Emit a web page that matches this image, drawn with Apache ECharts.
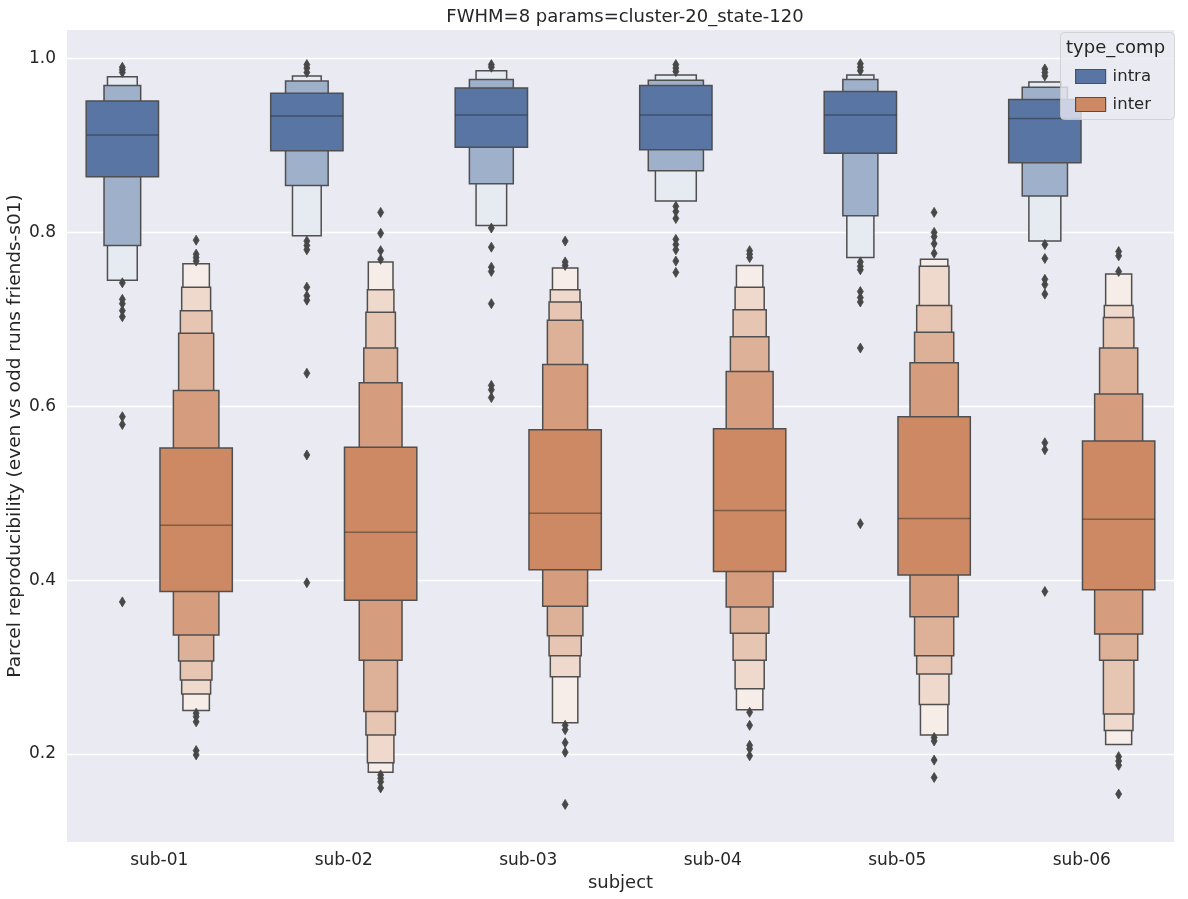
<!DOCTYPE html>
<html><head><meta charset="utf-8">
<script src="https://cdn.jsdelivr.net/npm/echarts@6/dist/echarts.min.js"></script>
<style>html,body{margin:0;padding:0;background:#fff}#main{width:1188px;height:899px}</style>
</head><body><div id="main"></div>
<script>
const categories = ['sub-01','sub-02','sub-03','sub-04','sub-05','sub-06'];
const yTicks = [0.2, 0.4, 0.6, 0.8, 1.0];

// letter-value boxes, listed innermost -> outermost
const intraMedian = [0.912, 0.934, 0.935, 0.935, 0.935, 0.931];
const intraLow = [
  [0.864, 0.785, 0.745],
  [0.894, 0.854, 0.796],
  [0.898, 0.856, 0.808],
  [0.895, 0.871, 0.836],
  [0.891, 0.819, 0.771],
  [0.880, 0.842, 0.790]
];
const intraHigh = [
  [0.951, 0.969, 0.979],
  [0.960, 0.974, 0.980],
  [0.966, 0.976, 0.986],
  [0.969, 0.975, 0.981],
  [0.962, 0.976, 0.981],
  [0.953, 0.967, 0.973]
];
const intraOutliers = [
  [0.990, 0.987, 0.984, 0.742, 0.723, 0.718, 0.710, 0.703, 0.588, 0.579, 0.375],
  [0.993, 0.989, 0.984, 0.790, 0.785, 0.780, 0.737, 0.727, 0.722, 0.638, 0.544, 0.397],
  [0.993, 0.990, 0.805, 0.783, 0.760, 0.755, 0.718, 0.624, 0.619, 0.610],
  [0.993, 0.989, 0.985, 0.830, 0.824, 0.816, 0.792, 0.786, 0.780, 0.767, 0.754],
  [0.994, 0.990, 0.986, 0.766, 0.761, 0.757, 0.732, 0.725, 0.720, 0.667, 0.465],
  [0.988, 0.984, 0.980, 0.786, 0.770, 0.746, 0.740, 0.729, 0.558, 0.550, 0.387]
];

const interMedian = [0.463, 0.455, 0.477, 0.480, 0.471, 0.470];
const interLow = [
  [0.387, 0.337, 0.307, 0.285, 0.269, 0.250],
  [0.377, 0.308, 0.249, 0.222, 0.190, 0.179],
  [0.412, 0.370, 0.336, 0.313, 0.289, 0.236],
  [0.410, 0.369, 0.339, 0.308, 0.275, 0.251],
  [0.406, 0.358, 0.313, 0.292, 0.257, 0.222],
  [0.389, 0.338, 0.308, 0.246, 0.227, 0.211]
];
const interHigh = [
  [0.552, 0.618, 0.684, 0.710, 0.737, 0.764],
  [0.553, 0.627, 0.667, 0.708, 0.734, 0.766],
  [0.573, 0.648, 0.699, 0.720, 0.734, 0.759],
  [0.574, 0.640, 0.680, 0.711, 0.737, 0.762],
  [0.588, 0.650, 0.685, 0.716, 0.761, 0.769],
  [0.560, 0.614, 0.667, 0.702, 0.716, 0.752]
];
const interOutliers = [
  [0.791, 0.775, 0.771, 0.767, 0.247, 0.243, 0.237, 0.204, 0.199],
  [0.823, 0.799, 0.779, 0.769, 0.176, 0.172, 0.168, 0.161],
  [0.790, 0.766, 0.762, 0.233, 0.228, 0.213, 0.202, 0.142],
  [0.779, 0.775, 0.771, 0.248, 0.233, 0.210, 0.206, 0.198],
  [0.823, 0.800, 0.795, 0.787, 0.776, 0.219, 0.215, 0.193, 0.173],
  [0.778, 0.773, 0.755, 0.197, 0.192, 0.187, 0.154]
];

const FONT = 'DejaVu Sans';
const TXT = '#262626';
const EDGE = '#4f4f4f';
const BASE_INTRA = [88, 117, 163];
const BASE_INTER = [204, 137, 99];
const rgb = c => 'rgb(' + c.join(',') + ')';
function levelColor(base, v) {
  const t = v * 0.85;
  return rgb(base.map(c => Math.round(c + (255 - c) * t)));
}

function boxenSeries(name, base, med, lows, highs, offset) {
  const data = categories.map((c, i) => {
    const row = [i, med[i]];
    lows[i].forEach((l, j) => { row.push(l, highs[i][j]); });
    return row;
  });
  return {
    type: 'custom', name: name, data: data, z: 3,
    itemStyle: { color: rgb(base), borderColor: EDGE, borderWidth: 1.2 },
    renderItem: function (params, api) {
      const k = lows[params.dataIndex].length;
      const band = api.size([1, 0])[0];
      const cx = api.coord([api.value(0), 0])[0] + offset * band;
      const fullW = band * 0.4 * 0.98;
      const raw = [];
      for (let j = 0; j < k; j++) {
        const lo = api.value(2 + 2 * j), hi = api.value(3 + 2 * j);
        raw.push((1 - Math.pow(2, -j - 3)) / (hi - lo));
      }
      const mx = Math.max.apply(null, raw);
      const children = [];
      for (let j = k - 1; j >= 0; j--) {
        const lo = api.value(2 + 2 * j), hi = api.value(3 + 2 * j);
        const w = raw[j] / mx * fullW;
        const y1 = api.coord([0, hi])[1], y2 = api.coord([0, lo])[1];
        children.push({
          type: 'rect',
          shape: { x: cx - w / 2, y: y1, width: w, height: y2 - y1 },
          style: { fill: levelColor(base, k > 1 ? j / (k - 1) : 0), stroke: EDGE, lineWidth: 1.5 }
        });
      }
      const ym = api.coord([0, api.value(1)])[1];
      children.push({
        type: 'line',
        shape: { x1: cx - fullW / 2, y1: ym, x2: cx + fullW / 2, y2: ym },
        style: { stroke: 'rgba(38,38,38,0.45)', lineWidth: 1.5 }
      });
      return { type: 'group', children: children };
    }
  };
}

function outlierSeries(name, outs, offset) {
  const data = [];
  outs.forEach((arr, i) => arr.forEach(v => data.push([i, v])));
  return {
    type: 'custom', name: name + '_out', data: data, z: 4,
    renderItem: function (params, api) {
      const band = api.size([1, 0])[0];
      const p = api.coord([api.value(0), api.value(1)]);
      const x = p[0] + offset * band, y = p[1];
      return {
        type: 'polygon',
        shape: { points: [[x, y - 5], [x + 3, y], [x, y + 5], [x - 3, y]] },
        style: { fill: '#474747', stroke: '#474747', lineWidth: 0.8 }
      };
    }
  };
}

const chart = echarts.init(document.getElementById('main'), null, { renderer: 'canvas' });
chart.setOption({
  animation: false,
  backgroundColor: '#ffffff',
  title: {
    text: 'FWHM=8 params=cluster-20_state-120',
    left: 620, top: 3, textAlign: 'center',
    textStyle: { fontFamily: FONT, fontSize: 18, fontWeight: 'normal', color: TXT }
  },
  grid: { left: 67, right: 14, top: 30, bottom: 57, show: true, backgroundColor: '#EAEAF2', borderWidth: 0,
          containLabel: false, outerBoundsMode: 'none' },
  xAxis: {
    type: 'category', data: categories,
    name: 'subject', nameLocation: 'middle', nameGap: 32, nameMoveOverlap: false,
    nameTextStyle: { fontFamily: FONT, fontSize: 18, color: TXT },
    axisLine: { show: false }, axisTick: { show: false },
    axisLabel: { fontFamily: FONT, fontSize: 17, color: TXT, margin: 10 },
    splitLine: { show: false }
  },
  yAxis: {
    type: 'value', min: 0.0988, max: 1.0328,
    name: 'Parcel reproducibility (even vs odd runs friends-s01)',
    nameLocation: 'middle', nameGap: 42, nameMoveOverlap: false,
    nameTextStyle: { fontFamily: FONT, fontSize: 18.5, color: TXT },
    axisLine: { show: false },
    axisTick: { show: false, customValues: yTicks },
    axisLabel: { customValues: yTicks, formatter: v => v.toFixed(1), fontFamily: FONT, fontSize: 17, color: TXT, margin: 11 },
    splitLine: { show: true, lineStyle: { color: '#ffffff', width: 1.3 } }
  },
  legend: {
    data: ['intra', 'inter'], orient: 'vertical', left: 1075, top: 68, padding: 0,
    icon: 'rect', itemWidth: 30, itemHeight: 14, itemGap: 11,
    selectedMode: false, z: 10,
    itemStyle: { borderColor: EDGE, borderWidth: 1.2 },
    textStyle: { fontFamily: FONT, fontSize: 16.5, color: TXT, padding: [0, 0, 0, 2] }
  },
  graphic: [
    { type: 'rect', z: 9, left: 1060, top: 32, shape: { width: 114, height: 87, r: 4 },
      style: { fill: 'rgba(234,234,242,0.8)', stroke: 'rgba(204,204,204,0.8)', lineWidth: 1 } },
    { type: 'text', z: 11, left: 1066, top: 39,
      style: { text: 'type_comp', font: '18px "DejaVu Sans"', fill: TXT } }
  ],
  series: [
    boxenSeries('intra', BASE_INTRA, intraMedian, intraLow, intraHigh, -0.2),
    boxenSeries('inter', BASE_INTER, interMedian, interLow, interHigh, 0.2),
    outlierSeries('intra', intraOutliers, -0.2),
    outlierSeries('inter', interOutliers, 0.2)
  ]
});
</script></body></html>
